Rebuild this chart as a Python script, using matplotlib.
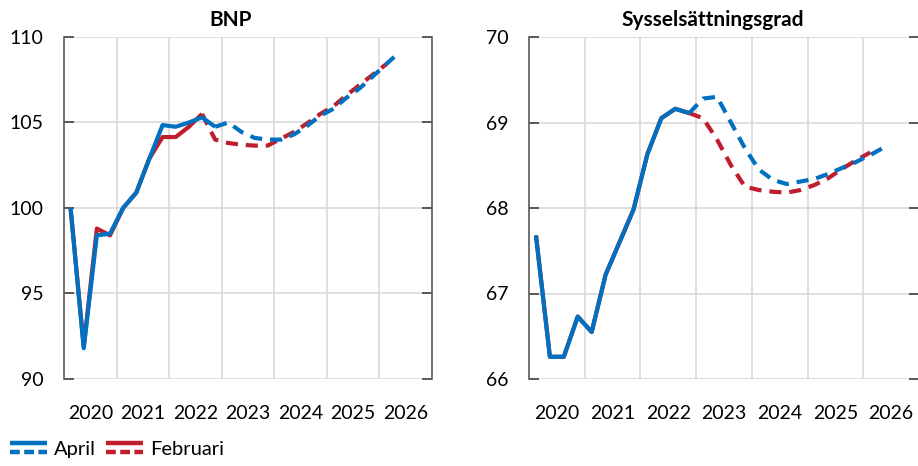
import matplotlib
matplotlib.use('Agg')
import matplotlib.pyplot as plt
from matplotlib.lines import Line2D
from matplotlib.legend_handler import HandlerBase
from matplotlib.ticker import FixedLocator, FixedFormatter, NullFormatter

plt.rcParams['font.family'] = ['Lato', 'DejaVu Sans']

# DATA (quarterly, 2020Q1 onwards)
YEARS = ['2020', '2021', '2022', '2023', '2024', '2025', '2026']

BNP_APRIL = [100.0, 91.8, 98.4, 98.5,
             100.0, 100.9, 102.9, 104.85,
             104.75, 105.0, 105.3, 104.75,
             105.0, 104.45, 104.1, 104.0,
             104.0, 104.3, 104.8, 105.4,
             105.8, 106.45, 107.0, 107.7,
             108.4, 109.1]
BNP_FEB = [100.0, 91.9, 98.8, 98.4,
           100.0, 100.9, 102.9, 104.15,
           104.15, 104.75, 105.5, 104.0,
           103.8, 103.7, 103.65, 103.65,
           104.05, 104.45, 104.95, 105.5,
           105.95, 106.6, 107.2, 107.8,
           108.4]

SYS_APRIL = [67.68, 66.26, 66.26, 66.73,
             66.55, 67.22, 67.6, 67.98,
             68.63, 69.05, 69.16, 69.11,
             69.28, 69.3, 69.0, 68.7,
             68.45, 68.33, 68.28, 68.31,
             68.34, 68.4, 68.47, 68.54,
             68.62, 68.71]
SYS_FEB = [67.68, 66.26, 66.26, 66.73,
           66.55, 67.22, 67.6, 67.98,
           68.63, 69.05, 69.16, 69.11,
           69.05, 68.8, 68.5, 68.25,
           68.21, 68.19, 68.18, 68.21,
           68.27, 68.35, 68.46, 68.56,
           68.65]

# index of last outcome (solid), forecast dashed after
LAST_BNP_APRIL = 11
LAST_BNP_FEB = 10
LAST_SYS_APRIL = 11
LAST_SYS_FEB = 11

BLUE = '#0070C0'
RED = '#BE1E2D'
GRID = '#d9d9d9'
SPINE = '#595959'
LW = 3.0
DASH = [2.9, 1.9]


def qx(n):
    return [2020 + (i + 0.5) / 4 for i in range(n)]


def plot_series(ax, vals, last, color):
    x = qx(len(vals))
    ax.plot(x[:last + 1], vals[:last + 1], color=color, lw=LW,
            solid_joinstyle='round', solid_capstyle='butt')
    ln, = ax.plot(x[last:], vals[last:], color=color, lw=LW,
                  dash_capstyle='butt')
    ln.set_dashes(DASH)


def style_axis(ax, ylim, yticks, title, title_x):
    ax.set_xlim(2020, 2027)
    ax.set_ylim(*ylim)
    ax.set_yticks(yticks)
    ax.xaxis.set_major_locator(FixedLocator(range(2021, 2027)))
    ax.xaxis.set_major_formatter(NullFormatter())
    ax.xaxis.set_minor_locator(FixedLocator([y + 0.5 for y in range(2020, 2027)]))
    ax.xaxis.set_minor_formatter(FixedFormatter(YEARS))
    ax.tick_params(axis='x', which='both', length=0, pad=19, labelsize=14)
    ax.tick_params(axis='y', direction='in', length=7, width=1.2, color='#404040',
                   left=True, right=True, pad=15, labelsize=14)
    ax.grid(axis='x', which='major', color=GRID, lw=1.2)
    ax.grid(axis='y', color=GRID, lw=1.2)
    ax.set_axisbelow(True)
    for s in ['top', 'bottom']:
        ax.spines[s].set_visible(False)
    for s in ['left', 'right']:
        ax.spines[s].set_color(SPINE)
        ax.spines[s].set_linewidth(1.2)
    fig.text(title_x, 1 - 20 / 466, title, ha='center', va='center',
             fontsize=15, fontweight='bold')


class SolidDashHandler(HandlerBase):
    # legend key: solid bar above a dashed bar
    def create_artists(self, legend, orig_handle, xdescent, ydescent,
                       width, height, fontsize, trans):
        c = orig_handle.get_color()
        x0, x1 = -xdescent, -xdescent + width
        y0 = -ydescent
        top = Line2D([x0, x1], [y0 + height * 0.85] * 2, color=c, lw=3.2,
                     solid_capstyle='butt', transform=trans)
        bot = Line2D([x0, x1], [y0 + height * 0.2] * 2, color=c, lw=3.2,
                     dash_capstyle='butt', transform=trans)
        bot.set_dashes([2.2, 1.0])
        return [top, bot]


fig = plt.figure(figsize=(9.18, 4.66), dpi=100)
ax1 = fig.add_axes([64 / 918, 1 - 379 / 466, 368 / 918, 342 / 466])
ax2 = fig.add_axes([529 / 918, 1 - 379 / 466, 390 / 918, 342 / 466])

plot_series(ax1, BNP_FEB, LAST_BNP_FEB, RED)
plot_series(ax1, BNP_APRIL, LAST_BNP_APRIL, BLUE)
style_axis(ax1, (90, 110), [90, 95, 100, 105, 110], 'BNP', 231 / 918)

plot_series(ax2, SYS_FEB, LAST_SYS_FEB, RED)
plot_series(ax2, SYS_APRIL, LAST_SYS_APRIL, BLUE)
style_axis(ax2, (66, 70), [66, 67, 68, 69, 70], 'Sysselsättningsgrad', 713 / 918)

h_apr = Line2D([], [], color=BLUE)
h_feb = Line2D([], [], color=RED)
fig.legend([h_apr, h_feb], ['April', 'Februari'], loc='lower left',
           bbox_to_anchor=(-0.009, -0.022), ncol=2, frameon=False, fontsize=14.5,
           handlelength=1.85, handletextpad=0.35, columnspacing=0.5,
           handler_map={Line2D: SolidDashHandler()})

fig.savefig('out.png', dpi=100)
